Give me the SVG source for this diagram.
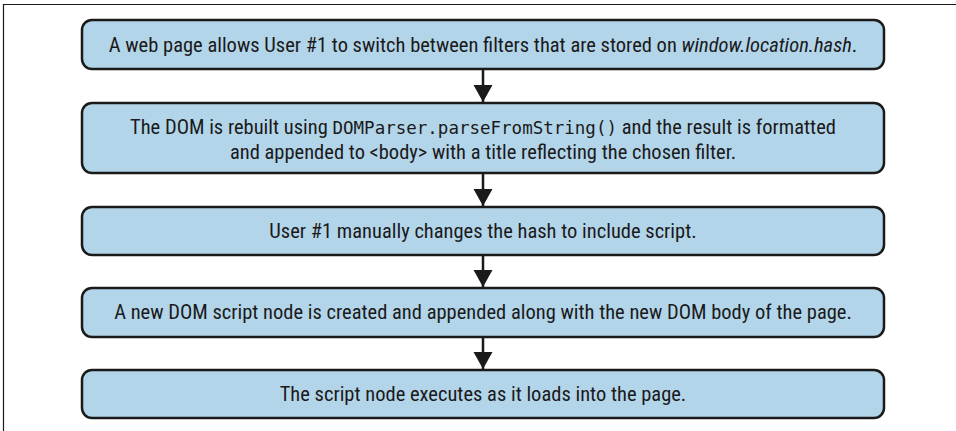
<svg xmlns="http://www.w3.org/2000/svg" width="956" height="431" viewBox="0 0 956 431">
  <style>
    .box { fill: #b3d5ea; stroke: #1a1a1a; stroke-width: 2.5; }
    .lbl { font-family: "Liberation Sans Narrow", "Roboto Condensed", "Liberation Sans", sans-serif; font-stretch: condensed; font-size: 20.5px; fill: #1a1a1a; text-anchor: middle; }
    .mono { font-family: "DejaVu Sans Mono", "Liberation Mono", monospace; font-size: 17.5px; }
    .edge { stroke: #1a1a1a; stroke-width: 2.5; fill: none; }
  </style>
  <defs>
    <marker id="arrow" markerUnits="userSpaceOnUse" markerWidth="20" markerHeight="20" refX="17" refY="9.5" orient="auto">
      <path d="M0,0 L17,9.5 L0,19 Z" fill="#1a1a1a"/>
    </marker>
  </defs>
  <rect width="956" height="431" fill="#ffffff"/>
  <path d="M3.5,431 V4.5 H956" fill="none" stroke="#1a1a1a" stroke-width="1.2"/>

  <g id="connectors">
    <line class="edge" x1="483" y1="69" x2="483" y2="102" marker-end="url(#arrow)"/>
    <line class="edge" x1="483" y1="173" x2="483" y2="206" marker-end="url(#arrow)"/>
    <line class="edge" x1="483" y1="255" x2="483" y2="287" marker-end="url(#arrow)"/>
    <line class="edge" x1="483" y1="337" x2="483" y2="369" marker-end="url(#arrow)"/>
  </g>

  <g id="step1">
    <rect class="box" x="82" y="20" width="802" height="49" rx="10"/>
    <text class="lbl" x="483" y="51.5">A web page allows User #1 to switch between filters that are stored on <tspan font-style="italic">window.location.hash</tspan>.</text>
  </g>
  <g id="step2">
    <rect class="box" x="82" y="103" width="802" height="70" rx="10"/>
    <text class="lbl" x="483" y="134">The DOM is rebuilt using <tspan class="mono">DOMParser.parseFromString()</tspan> and the result is formatted</text>
    <text class="lbl" x="483" y="159">and appended to &lt;body&gt; with a title reflecting the chosen filter.</text>
  </g>
  <g id="step3">
    <rect class="box" x="82" y="207" width="802" height="48" rx="10"/>
    <text class="lbl" x="483" y="238">User #1 manually changes the hash to include script.</text>
  </g>
  <g id="step4">
    <rect class="box" x="82" y="288" width="802" height="49" rx="10"/>
    <text class="lbl" x="483" y="319">A new DOM script node is created and appended along with the new DOM body of the page.</text>
  </g>
  <g id="step5">
    <rect class="box" x="82" y="370" width="802" height="48" rx="10"/>
    <text class="lbl" x="483" y="401">The script node executes as it loads into the page.</text>
  </g>
</svg>
